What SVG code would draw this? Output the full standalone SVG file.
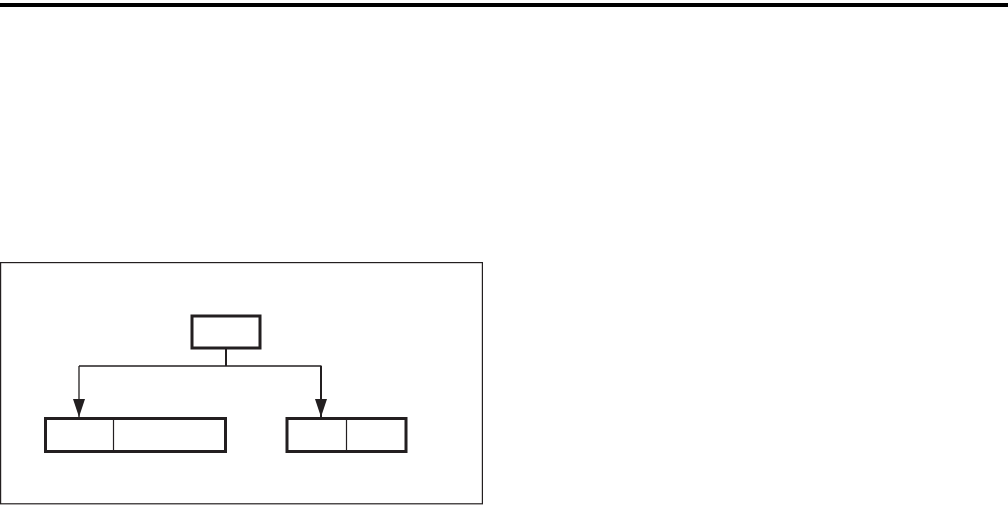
<svg xmlns="http://www.w3.org/2000/svg" width="1008" height="506" viewBox="0 0 1008 506">
  <style>
    .frame { fill: none; stroke: #231f20; stroke-width: 1.2; }
    .box { fill: #ffffff; stroke: #231f20; stroke-width: 3; }
    .div { stroke: #231f20; stroke-width: 1.2; }
    .thin { fill: none; stroke: #231f20; stroke-width: 1.3; }
    .thick { fill: none; stroke: #231f20; stroke-width: 2; }
  </style>
  <defs>
    <marker id="arrow" markerUnits="userSpaceOnUse" viewBox="0 0 18 12" markerWidth="18" markerHeight="12" refX="18" refY="6" orient="auto">
      <path d="M0,0 L18,6 L0,12 z" fill="#231f20"/>
    </marker>
  </defs>
  <rect x="0" y="3" width="1008" height="4" fill="#000000"/>
  <rect class="frame" x="0.6" y="262.6" width="481.8" height="241.2"/>
  <g id="connectors">
    <line class="thick" x1="226" y1="349" x2="226" y2="366"/>
    <line class="thin" x1="79" y1="366" x2="321.5" y2="366"/>
    <path class="thin" d="M79,366 V417" marker-end="url(#arrow)"/>
    <path class="thick" d="M321,366 V417" marker-end="url(#arrow)"/>
  </g>
  <g id="node-top">
    <rect class="box" x="192" y="316" width="68" height="32"/>
  </g>
  <g id="node-left">
    <rect class="box" x="45.5" y="418.5" width="180" height="33"/>
    <line class="div" x1="113.5" y1="418.5" x2="113.5" y2="451.5"/>
  </g>
  <g id="node-right">
    <rect class="box" x="287" y="418.5" width="119" height="33"/>
    <line class="div" x1="346.5" y1="418.5" x2="346.5" y2="451.5"/>
  </g>
</svg>
